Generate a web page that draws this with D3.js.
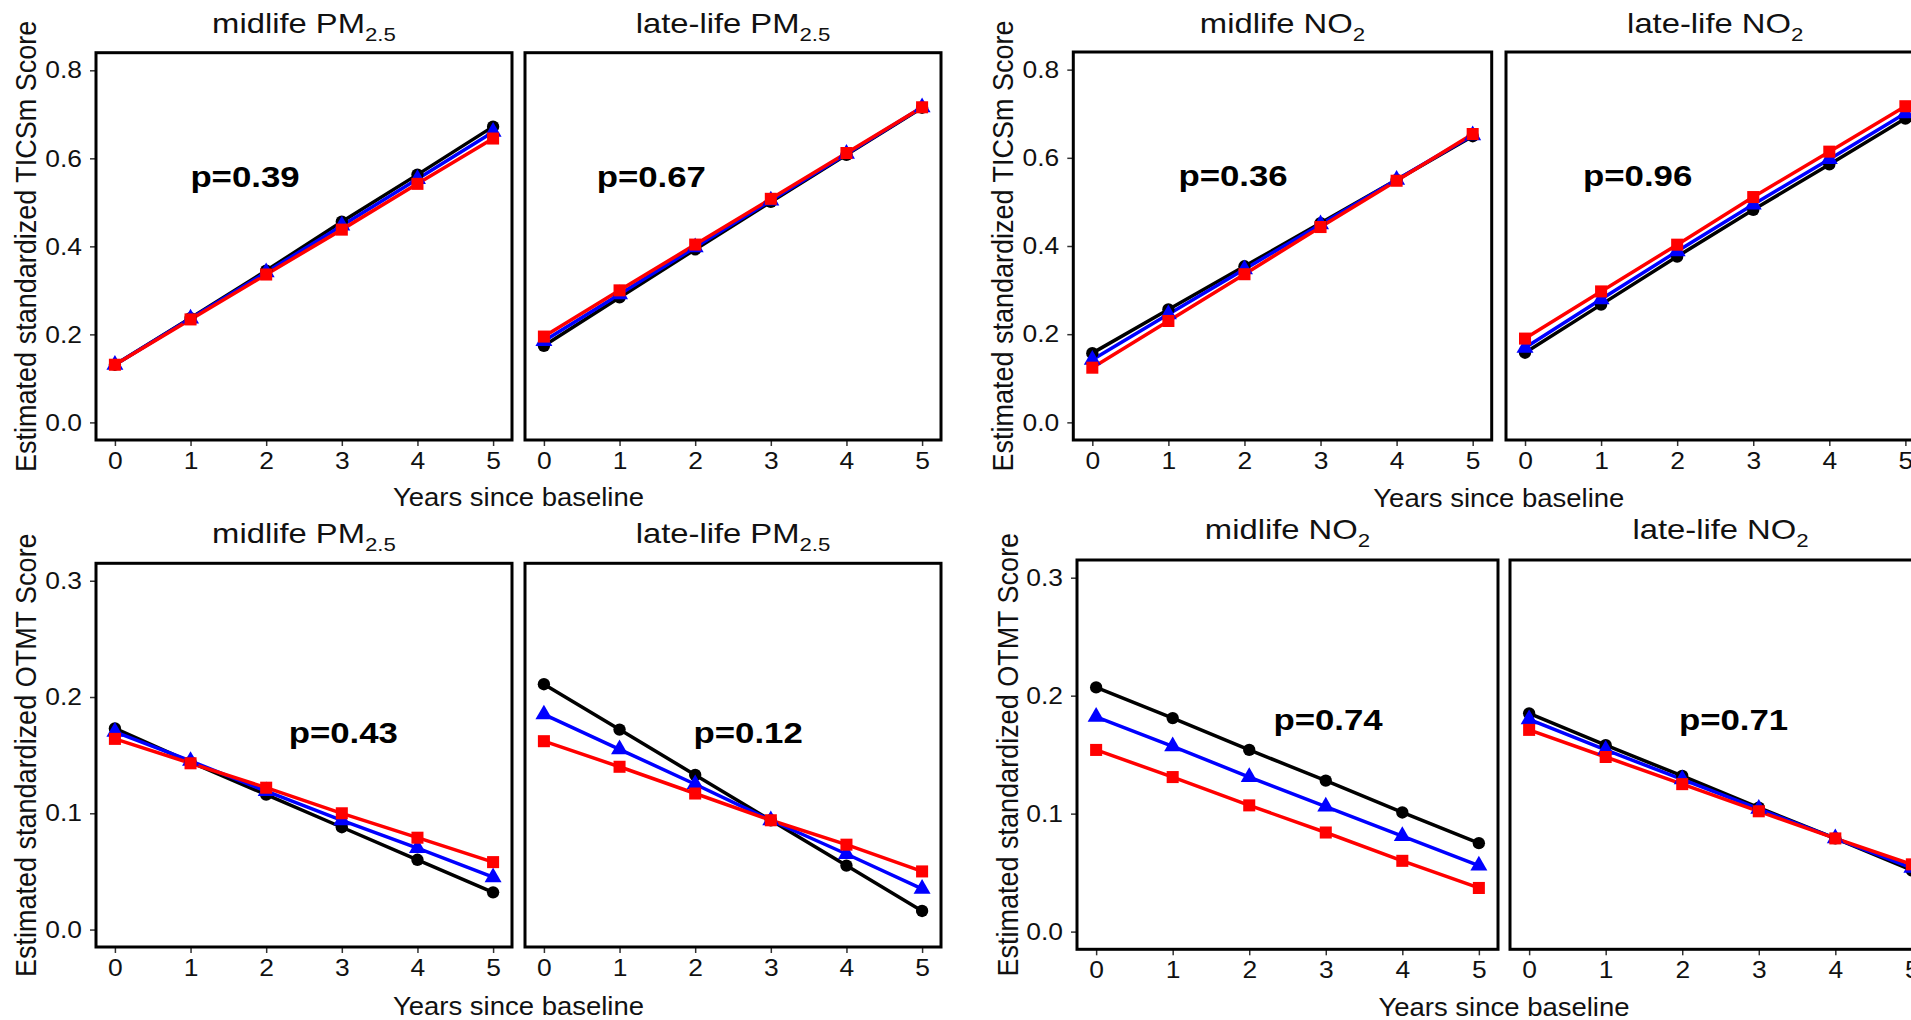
<!DOCTYPE html>
<html>
<head>
<meta charset="utf-8">
<script src="https://cdn.jsdelivr.net/npm/d3@7"></script>
<style>
  body { margin: 0; background: #fff; }
  svg { display: block; font-family: "Liberation Sans", Arial, sans-serif; }
</style>
</head>
<body>
<div id="chart"></div>
<script>
// ---- data ----
const years = [0, 1, 2, 3, 4, 5];
const seriesNames = ['low', 'middle', 'high'];

// TICSm, each array: [black, blue, red]
const ticsMidPm25 = [
  [0.131, 0.237, 0.345, 0.456, 0.563, 0.672],
  [0.131, 0.236, 0.341, 0.447, 0.553, 0.660],
  [0.131, 0.234, 0.336, 0.438, 0.542, 0.645]
];
const ticsLatePm25 = [
  [0.174, 0.284, 0.393, 0.501, 0.608, 0.715],
  [0.185, 0.291, 0.398, 0.504, 0.610, 0.716],
  [0.195, 0.300, 0.404, 0.508, 0.612, 0.716]
];
const ticsMidNo2 = [
  [0.157, 0.256, 0.354, 0.452, 0.550, 0.649],
  [0.142, 0.245, 0.347, 0.449, 0.550, 0.651],
  [0.124, 0.230, 0.336, 0.443, 0.548, 0.654]
];
const ticsLateNo2 = [
  [0.158, 0.267, 0.376, 0.482, 0.585, 0.689],
  [0.169, 0.279, 0.388, 0.494, 0.597, 0.701],
  [0.190, 0.297, 0.403, 0.511, 0.614, 0.717]
];

// OTMT
const otmtMidPm25 = [
  [0.173, 0.144, 0.116, 0.088, 0.060, 0.032],
  [0.170, 0.145, 0.119, 0.094, 0.070, 0.045],
  [0.164, 0.143, 0.122, 0.100, 0.079, 0.058]
];
const otmtLatePm25 = [
  [0.211, 0.172, 0.133, 0.094, 0.055, 0.016],
  [0.185, 0.155, 0.125, 0.094, 0.065, 0.035],
  [0.162, 0.140, 0.117, 0.094, 0.073, 0.050]
];
const otmtMidNo2 = [
  [0.207, 0.181, 0.154, 0.128, 0.101, 0.075],
  [0.182, 0.157, 0.131, 0.106, 0.081, 0.056],
  [0.154, 0.131, 0.107, 0.084, 0.060, 0.037]
];
const otmtLateNo2 = [
  [0.185, 0.158, 0.132, 0.105, 0.079, 0.052],
  [0.180, 0.154, 0.129, 0.104, 0.079, 0.054],
  [0.171, 0.148, 0.125, 0.102, 0.079, 0.057]
];

const ticsTicks = [0, 0.2, 0.4, 0.6, 0.8];
const otmtTicks = [0, 0.1, 0.2, 0.3];
const ticsPValues = ['p=0.39', 'p=0.67', 'p=0.36', 'p=0.96'];
const otmtPValues = ['p=0.43', 'p=0.12', 'p=0.74', 'p=0.71'];
const panelTitles = [['midlife PM', '2.5'], ['late-life PM', '2.5'], ['midlife NO', '2'], ['late-life NO', '2']];

// ---- drawing ----
const width = 1911, height = 1020;
const colors = ['#000000', '#0000ff', '#ff0000'];
const shapes = [d3.symbolCircle, d3.symbolTriangle, d3.symbolSquare];
const shapeSizes = [120, 125, 145];

const svg = d3.select('#chart').append('svg')
  .attr('width', width)
  .attr('height', height);

// wider-looking text, like the source image
function stretch(sel, sx) {
  sel.each(function() {
    const t = d3.select(this);
    const x = +t.attr('x') || 0, y = +t.attr('y') || 0;
    t.attr('x', 0).attr('y', 0)
      .attr('transform', `translate(${x},${y}) scale(${sx},1)`);
  });
}

// one block = two facets sharing a y axis
const blocks = [
  { lefts: [96, 525], w: 416, top: 52.7, bottom: 440, yMax: 0.8, ticks: ticsTicks,
    label: 'Estimated standardized TICSm Score', labelX: 26, titleY: 33, xLabelY: 506,
    series: [ticsMidPm25, ticsLatePm25], titles: [0, 1], pv: [ticsPValues[0], ticsPValues[1]],
    pPos: [[1.72, 0.558], [1.42, 0.558]] },
  { lefts: [1073.3, 1506], w: 418.4, top: 52, bottom: 440, yMax: 0.8, ticks: ticsTicks,
    label: 'Estimated standardized TICSm Score', labelX: 1003, titleY: 33, xLabelY: 507,
    series: [ticsMidNo2, ticsLateNo2], titles: [2, 3], pv: [ticsPValues[2], ticsPValues[3]],
    pPos: [[1.85, 0.558], [1.48, 0.558]] },
  { lefts: [96, 525], w: 416, top: 563.3, bottom: 947, yMax: 0.3, ticks: otmtTicks,
    label: 'Estimated standardized OTMT Score', labelX: 26, titleY: 543, xLabelY: 1015,
    series: [otmtMidPm25, otmtLatePm25], titles: [0, 1], pv: [otmtPValues[0], otmtPValues[1]],
    pPos: [[3.02, 0.1695], [2.70, 0.1695]] },
  { lefts: [1077, 1510], w: 421, top: 560, bottom: 949.3, yMax: 0.3, ticks: otmtTicks,
    label: 'Estimated standardized OTMT Score', labelX: 1008, titleY: 539, xLabelY: 1016,
    series: [otmtMidNo2, otmtLateNo2], titles: [2, 3], pv: [otmtPValues[2], otmtPValues[3]],
    pPos: [[3.03, 0.1795], [2.67, 0.1795]] }
];

blocks.forEach(b => {
  const pad = b.yMax * 0.05;
  const y = d3.scaleLinear().domain([-pad, b.yMax + pad]).range([b.bottom, b.top]);

  // y axis title
  svg.append('text')
    .attr('transform', `translate(${b.labelX},${(b.top + b.bottom) / 2}) scale(1.08,1) rotate(-90)`)
    .attr('text-anchor', 'middle')
    .attr('dy', '0.35em')
    .attr('font-size', 27)
    .attr('fill', '#111')
    .text(b.label);

  // x axis title
  const midX = (b.lefts[0] + b.lefts[1] + b.w) / 2;
  svg.append('text')
    .attr('x', midX).attr('y', b.xLabelY)
    .attr('text-anchor', 'middle')
    .attr('font-size', 25)
    .attr('fill', '#111')
    .text('Years since baseline')
    .call(stretch, 1.1);

  b.lefts.forEach((left, k) => {
    const x = d3.scaleLinear().domain([-0.25, 5.25]).range([left, left + b.w]);
    const g = svg.append('g');

    // facet title with subscript
    const tt = panelTitles[b.titles[k]];
    const title = g.append('text')
      .attr('x', left + b.w / 2).attr('y', b.titleY)
      .attr('text-anchor', 'middle')
      .attr('font-size', 28)
      .attr('fill', '#111');
    title.append('tspan').text(tt[0]);
    title.append('tspan').attr('font-size', 19).attr('dy', 8).text(tt[1]);
    title.call(stretch, 1.17);

    // axes
    if (k === 0) {
      const ya = g.append('g')
        .attr('transform', `translate(${left},0)`)
        .call(d3.axisLeft(y).tickValues(b.ticks).tickFormat(d3.format('.1f')).tickSize(6).tickPadding(8));
      ya.select('.domain').remove();
      ya.selectAll('line').attr('stroke', '#333').attr('stroke-width', 1.5);
      ya.selectAll('text').attr('font-size', 24).attr('fill', '#111').call(stretch, 1.1);
    }
    const xa = g.append('g')
      .attr('transform', `translate(0,${b.bottom})`)
      .call(d3.axisBottom(x).tickValues(years).tickFormat(d3.format('d')).tickSize(6).tickPadding(6));
    xa.select('.domain').remove();
    xa.selectAll('line').attr('stroke', '#333').attr('stroke-width', 1.5);
    xa.selectAll('text').attr('font-size', 24).attr('fill', '#111').call(stretch, 1.1);

    // lines then points
    const series = b.series[k];
    const line = d3.line().x((d, i) => x(years[i])).y(d => y(d));
    series.forEach((vals, s) => {
      g.append('path')
        .datum(vals)
        .attr('class', 'line-' + seriesNames[s])
        .attr('d', line)
        .attr('fill', 'none')
        .attr('stroke', colors[s])
        .attr('stroke-width', 3.5);
    });
    series.forEach((vals, s) => {
      g.selectAll('.pt-' + seriesNames[s])
        .data(vals)
        .enter()
        .append('path')
        .attr('class', 'pt-' + seriesNames[s])
        .attr('transform', (d, i) => `translate(${x(years[i])},${y(d)})`)
        .attr('d', d3.symbol().type(shapes[s]).size(shapeSizes[s]))
        .attr('fill', colors[s]);
    });

    // p-value
    g.append('text')
      .attr('x', x(b.pPos[k][0])).attr('y', y(b.pPos[k][1]))
      .attr('text-anchor', 'middle')
      .attr('dy', '0.35em')
      .attr('font-size', 29)
      .attr('font-weight', 'bold')
      .attr('fill', '#000')
      .text(b.pv[k])
      .call(stretch, 1.2);

    // panel border
    g.append('rect')
      .attr('x', left).attr('y', b.top)
      .attr('width', b.w).attr('height', b.bottom - b.top)
      .attr('fill', 'none')
      .attr('stroke', '#000')
      .attr('stroke-width', 3);
  });
});
</script>
</body>
</html>
